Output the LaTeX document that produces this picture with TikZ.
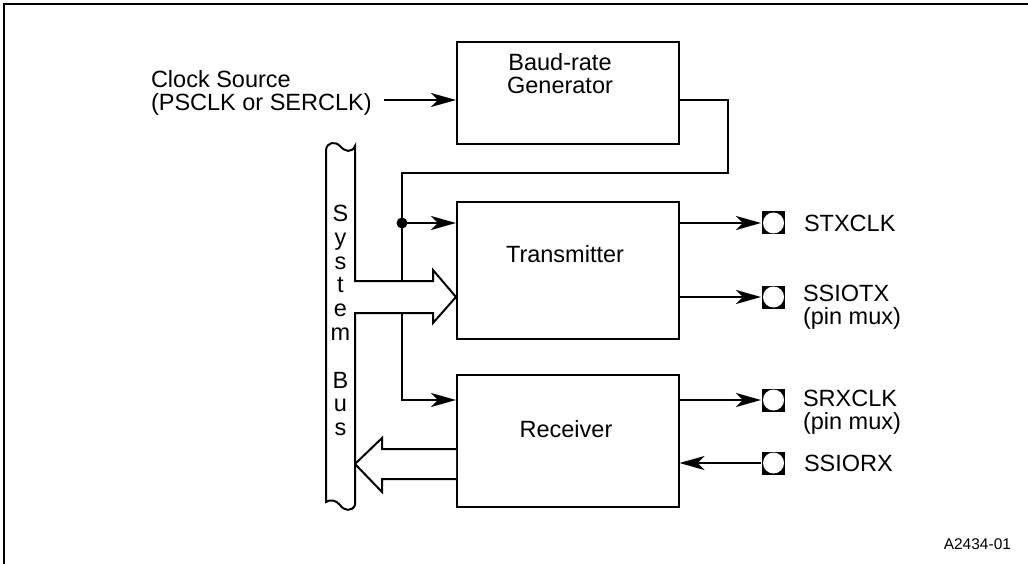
\documentclass[tikz,border=0pt]{standalone}
\usepackage{fontspec}
\setmainfont{Liberation Sans}
\usetikzlibrary{arrows.meta,calc,positioning}

\begin{document}
\begin{tikzpicture}[x=1pt,y=-1pt,line width=2pt,
	>={Stealth[length=25pt,width=14pt,inset=7pt]},
	blk/.style={draw,rectangle,minimum width=221.5pt,inner sep=0pt},
	txt/.style={inner sep=0pt,font=\fontsize{23.5}{23}\selectfont},
	pin/.style={rectangle,fill=black,minimum size=23pt,inner sep=0pt,
		path picture={\fill[white] (path picture bounding box.center) circle (10.5pt);}}]
	\useasboundingbox (0,0) rectangle (1028,564);
	\draw (4,564) -- (4,4) -- (1028,4);
	% blocks
	\node[blk,minimum height=102pt] (baud) at (567.75,93) {};
	\node[txt,align=center] (baudlbl) at (560,73.5) {Baud-rate\\Generator};
	\node[blk,minimum height=137pt] (tx) at (567.75,270.5) {};
	\node[txt,anchor=base] (txlbl) at (565,262) {Transmitter};
	\node[blk,minimum height=132pt] (rx) at (567.75,441) {};
	\node[txt,anchor=base] (rxlbl) at (566,437) {Receiver};
	\node[txt,align=left,anchor=west] (clk) at (150,92.5) {Clock Source\\(PSCLK or SERCLK)};
	% pins
	\node[pin] (stxclk) at (773.5,223) {};
	\node[txt,right=17pt of stxclk] (stxlbl) {STXCLK};
	\node[pin] (ssiotx) at (773.5,297) {};
	\node[txt,anchor=north west,align=left] (ssiotxlbl) at (802,284.5) {SSIOTX\\(pin mux)};
	\node[pin] (srxclk) at (773.5,400) {};
	\node[txt,anchor=north west,align=left] (srxlbl) at (802,389.5) {SRXCLK\\(pin mux)};
	\node[pin] (ssiorx) at (773.5,463) {};
	\node[txt,right=17pt of ssiorx] (ssiorxlbl) {SSIORX};
	\node[inner sep=0pt,anchor=east,font=\fontsize{15.5}{18}\selectfont] (figno) at (1012,544) {A2434-01};
	% clock path
	\coordinate (clkin) at (baud.west |- 0,100);
	\coordinate (split) at (402,223);
	\coordinate (rxclk) at (rx.west |- 0,400);
	\draw[->] (clk.east |- clkin) ++(11,0) -- (clkin);
	\draw (baud.east |- clkin) -- (728,100) -- (728,173) -- (402,173) -- (402,281);
	\draw[->] (split) -- (tx.west |- split);
	\fill (split) circle (5.5);
	\draw[->] (402,313) |- (rxclk);
	% system bus with the arrow into the transmitter
	\coordinate (txin) at (tx.west |- 0,297);
	\draw (433,281) -- (355,281) -- (355,146)
		.. controls (352,153) and (345,152) .. (340,146)
		.. controls (335,141) and (327,142) .. (326,150) -- (326,502)
		.. controls (330,499) and (336,500) .. (340,505)
		.. controls (344,511) and (352,512) .. (355,505) -- (355,313) -- (433,313) -- (433,323)
		-- (txin) -- (433,270) -- cycle;
	\node[inner sep=0pt,anchor=north,align=center,font=\fontsize{23.5}{23.8}\selectfont] (buslbl) at (340.5,204) {S\\y\\s\\t\\e\\m\\[23.8pt]B\\u\\s};
	% arrow from the receiver to the bus
	\coordinate (rxout) at (355,464);
	\draw[fill=white] (rx.west |- 0,449) -- (382,449) -- (382,438) -- (rxout) -- (382,492) -- (382,479) -- (rx.west |- 0,479);
	% pin connectors
	\draw[->] (tx.east |- stxclk) -- (stxclk);
	\draw[->] (tx.east |- ssiotx) -- (ssiotx);
	\draw[->] (rx.east |- srxclk) -- (srxclk);
	\draw[<-] (rx.east |- ssiorx) -- (ssiorx);
\end{tikzpicture}
\end{document}
